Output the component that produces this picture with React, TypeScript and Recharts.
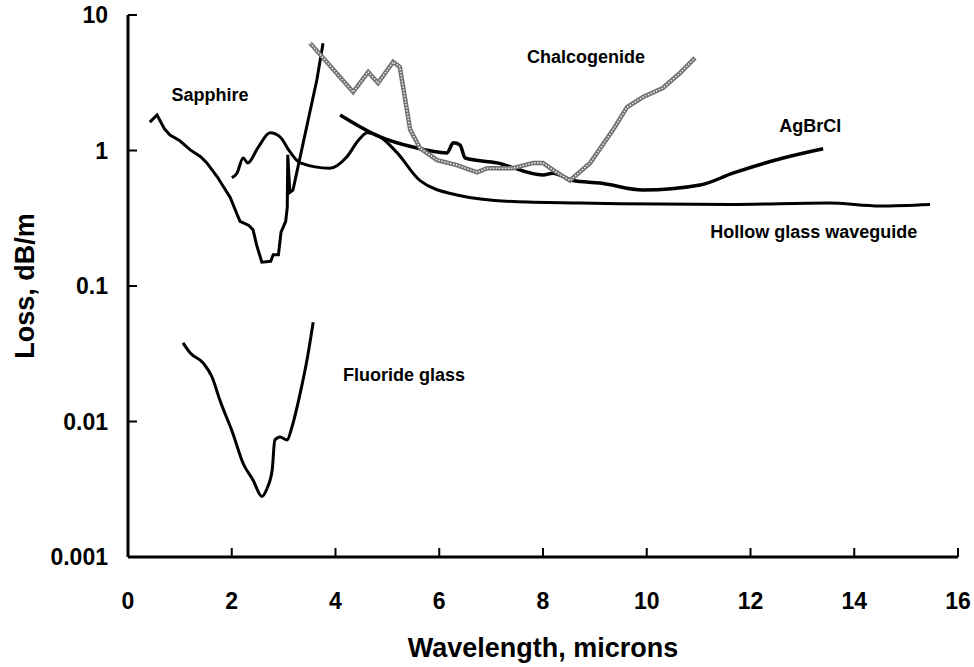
import React from "react";
import {
  LineChart,
  Line,
  XAxis,
  YAxis,
  ReferenceDot,
} from "recharts";

// wavelength (microns) vs loss (dB/m)
const sapphire = [
  { x: 0.42, y: 1.62 },
  { x: 0.56, y: 1.83 },
  { x: 0.7, y: 1.45 },
  { x: 0.81, y: 1.3 },
  { x: 1.0, y: 1.18 },
  { x: 1.2, y: 1.01 },
  { x: 1.4, y: 0.9 },
  { x: 1.52, y: 0.81 },
  { x: 1.72, y: 0.64 },
  { x: 1.97, y: 0.45 },
  { x: 2.1, y: 0.34 },
  { x: 2.16, y: 0.3 },
  { x: 2.33, y: 0.28 },
  { x: 2.41, y: 0.26 },
  { x: 2.48, y: 0.2 },
  { x: 2.58, y: 0.15 },
  { x: 2.75, y: 0.152 },
  { x: 2.8, y: 0.17 },
  { x: 2.9, y: 0.17 },
  { x: 2.95, y: 0.25 },
  { x: 3.04, y: 0.3 },
  { x: 3.07, y: 0.38 },
  { x: 3.08, y: 0.93 },
  { x: 3.12, y: 0.49 },
  { x: 3.18, y: 0.51 },
  { x: 3.64, y: 3.31 },
  { x: 3.76, y: 6.2 },
];

const hollowGlass = [
  { x: 2.0, y: 0.63 },
  { x: 2.1, y: 0.68 },
  { x: 2.22, y: 0.88 },
  { x: 2.31, y: 0.81 },
  { x: 2.5, y: 1.04 },
  { x: 2.74, y: 1.35 },
  { x: 2.93, y: 1.26 },
  { x: 3.12, y: 0.98 },
  { x: 3.32, y: 0.81 },
  { x: 3.89, y: 0.74 },
  { x: 4.22, y: 0.9 },
  { x: 4.45, y: 1.2 },
  { x: 4.61, y: 1.35 },
  { x: 4.86, y: 1.26 },
  { x: 5.19, y: 0.96 },
  { x: 5.63, y: 0.6 },
  { x: 6.34, y: 0.47 },
  { x: 7.42, y: 0.42 },
  { x: 8.71, y: 0.41 },
  { x: 11.6, y: 0.4 },
  { x: 13.5, y: 0.41 },
  { x: 14.5, y: 0.39 },
  { x: 15.46, y: 0.4 },
];

const agBrCl = [
  { x: 4.09, y: 1.83 },
  { x: 4.86, y: 1.26 },
  { x: 5.49, y: 1.06 },
  { x: 6.15, y: 0.96 },
  { x: 6.27, y: 1.14 },
  { x: 6.4, y: 1.1 },
  { x: 6.5, y: 0.88 },
  { x: 7.11, y: 0.81 },
  { x: 8.0, y: 0.66 },
  { x: 8.19, y: 0.68 },
  { x: 8.58, y: 0.6 },
  { x: 9.1, y: 0.575 },
  { x: 9.93, y: 0.51 },
  { x: 11.03, y: 0.556 },
  { x: 11.66, y: 0.68 },
  { x: 12.63, y: 0.88 },
  { x: 13.4, y: 1.03 },
];

const chalcogenide = [
  { x: 3.51, y: 6.2 },
  { x: 4.34, y: 2.7 },
  { x: 4.63, y: 3.8 },
  { x: 4.82, y: 3.15 },
  { x: 5.11, y: 4.5 },
  { x: 5.24, y: 4.13 },
  { x: 5.44, y: 1.42 },
  { x: 5.63, y: 1.04 },
  { x: 5.96, y: 0.85 },
  { x: 6.34, y: 0.78 },
  { x: 6.73, y: 0.69 },
  { x: 6.92, y: 0.74 },
  { x: 7.42, y: 0.74 },
  { x: 7.81, y: 0.81 },
  { x: 8.0, y: 0.81 },
  { x: 8.19, y: 0.72 },
  { x: 8.52, y: 0.6 },
  { x: 8.91, y: 0.81 },
  { x: 9.35, y: 1.42 },
  { x: 9.62, y: 2.09 },
  { x: 9.93, y: 2.48 },
  { x: 10.31, y: 2.89 },
  { x: 10.64, y: 3.73 },
  { x: 10.93, y: 4.82 },
];

const fluorideGlass = [
  { x: 1.06, y: 0.038 },
  { x: 1.2, y: 0.032 },
  { x: 1.45, y: 0.027 },
  { x: 1.62, y: 0.0213 },
  { x: 1.77, y: 0.0144 },
  { x: 2.02, y: 0.0082 },
  { x: 2.22, y: 0.0049 },
  { x: 2.41, y: 0.0037 },
  { x: 2.58, y: 0.0028 },
  { x: 2.68, y: 0.0032 },
  { x: 2.78, y: 0.0044 },
  { x: 2.83, y: 0.0073 },
  { x: 2.93, y: 0.0077 },
  { x: 3.07, y: 0.0073 },
  { x: 3.16, y: 0.0091 },
  { x: 3.32, y: 0.0162 },
  { x: 3.45, y: 0.0284 },
  { x: 3.57, y: 0.054 },
];

const xTicks = [0, 2, 4, 6, 8, 10, 12, 14, 16];
const yTicks = [0.001, 0.01, 0.1, 1, 10];

const curveLabels = [
  { x: 1.58, y: 2.57, text: "Sapphire" },
  { x: 8.83, y: 4.9, text: "Chalcogenide" },
  { x: 13.15, y: 1.52, text: "AgBrCl" },
  { x: 13.22, y: 0.25, text: "Hollow glass waveguide" },
  { x: 5.32, y: 0.022, text: "Fluoride glass" },
];

const FONT = "'Liberation Sans', Arial, sans-serif";

function XTick({ x, y, payload }: any) {
  return (
    <g>
      <line x1={x} x2={x} y1={y} y2={y - 9} stroke="#000" strokeWidth={2} />
      <text x={x} y={y + 44} dy="0.35em" textAnchor="middle" fontSize={23} fontWeight="bold" fill="#000">
        {payload.value}
      </text>
    </g>
  );
}

function YTick({ x, y, payload }: any) {
  return (
    <g>
      <line x1={x} x2={x + 9} y1={y} y2={y} stroke="#000" strokeWidth={2} />
      <text x={x - 20} y={y} dy="0.35em" textAnchor="end" fontSize={23} fontWeight="bold" fill="#000">
        {String(payload.value)}
      </text>
    </g>
  );
}

export default function App() {
  return (
    <div style={{ position: "absolute", left: 0, top: 0, background: "#fff", fontFamily: FONT }}>
      <LineChart width={974} height={667} margin={{ top: 15, right: 16, bottom: 0, left: 0 }}>
        <XAxis
          xAxisId="main"
          dataKey="x"
          type="number"
          domain={[0, 16]}
          ticks={xTicks}
          allowDataOverflow
          height={110}
          tickSize={0}
          tickMargin={0}
          tickLine={false}
          tick={<XTick />}
          axisLine={{ stroke: "#000", strokeWidth: 3 }}
          label={{
            value: "Wavelength, microns",
            position: "insideBottom",
            offset: 10,
            fontSize: 27,
            fontWeight: "bold",
            fill: "#000",
          }}
        />
        <XAxis xAxisId="top" orientation="top" type="number" domain={[0, 16]} height={0} tick={false} tickLine={false} axisLine={{ stroke: "#000", strokeWidth: 3 }} />
        <YAxis
          yAxisId="main"
          type="number"
          scale="log"
          domain={[0.001, 10]}
          ticks={yTicks}
          allowDataOverflow
          width={128}
          tickSize={0}
          tickMargin={0}
          tickLine={false}
          tick={<YTick />}
          axisLine={{ stroke: "#000", strokeWidth: 3 }}
          label={{
            value: "Loss, dB/m",
            angle: -90,
            position: "insideLeft",
            offset: 24,
            fontSize: 27,
            fontWeight: "bold",
            fill: "#000",
            style: { textAnchor: "middle" },
          }}
        />
        <YAxis yAxisId="right" orientation="right" type="number" domain={[0, 1]} width={0} tick={false} tickLine={false} axisLine={{ stroke: "#000", strokeWidth: 3 }} />

        <Line xAxisId="main" yAxisId="main" data={hollowGlass} dataKey="y" type="monotone" stroke="#000" strokeWidth={3} dot={false} isAnimationActive={false} />
        <Line xAxisId="main" yAxisId="main" data={agBrCl} dataKey="y" type="monotone" stroke="#000" strokeWidth={3.5} dot={false} isAnimationActive={false} />
        <Line xAxisId="main" yAxisId="main" data={sapphire} dataKey="y" type="linear" stroke="#000" strokeWidth={3} dot={false} isAnimationActive={false} />
        <Line xAxisId="main" yAxisId="main" data={fluorideGlass} dataKey="y" type="monotone" stroke="#000" strokeWidth={3} dot={false} isAnimationActive={false} />
        <Line xAxisId="main" yAxisId="main" data={chalcogenide} dataKey="y" type="linear" stroke="#707070" strokeWidth={4.5} dot={false} isAnimationActive={false} />
        <Line xAxisId="main" yAxisId="main" data={chalcogenide} dataKey="y" type="linear" stroke="#e8e8e8" strokeWidth={1.6} strokeDasharray="1.5 1.5" dot={false} isAnimationActive={false} />

        {curveLabels.map((l) => (
          <ReferenceDot
            key={l.text}
            xAxisId="main"
            yAxisId="main"
            x={l.x}
            y={l.y}
            r={0}
            fill="none"
            stroke="none"
            label={{ value: l.text, position: "center", fontSize: 18, fontWeight: "bold", fill: "#000" }}
          />
        ))}
      </LineChart>
    </div>
  );
}
